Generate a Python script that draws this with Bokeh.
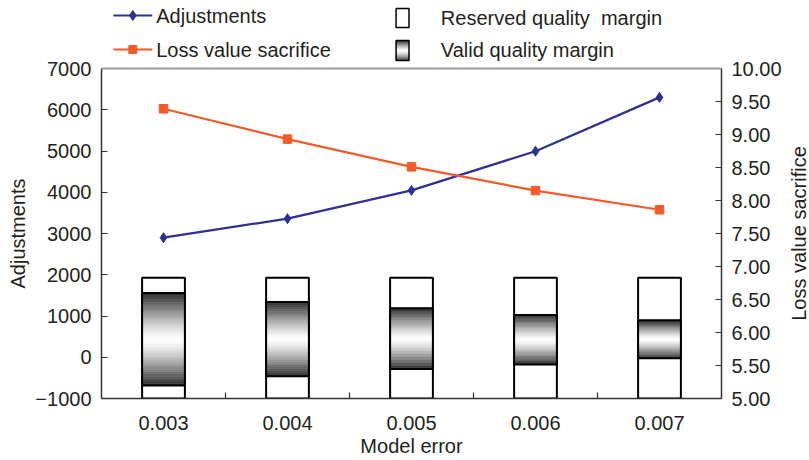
import math
import numpy as np
from bokeh.plotting import figure
from bokeh.models import (Range1d, LinearAxis, FixedTicker, NumeralTickFormatter, ColumnDataSource,
                          Span, Title)
from bokeh.layouts import row
from bokeh.embed import file_html
from bokeh.resources import INLINE
from bokeh.core.properties import value

# ---------------- data ----------------
categories = ["0.003", "0.004", "0.005", "0.006", "0.007"]
adjustments = [2900, 3360, 4045, 4995, 6300]
loss_value = [9.39, 8.93, 8.51, 8.15, 7.86]
reserved_top = [1925, 1925, 1925, 1925, 1925]
reserved_bottom = [-1000, -1000, -1000, -1000, -1000]
valid_top = [1560, 1342, 1189, 1027, 898]
valid_bottom = [-685, -460, -282, -176, -23]
left_ticks = [-1000, 0, 1000, 2000, 3000, 4000, 5000, 6000, 7000]
right_ticks = [5.0, 5.5, 6.0, 6.5, 7.0, 7.5, 8.0, 8.5, 9.0, 9.5, 10.0]
legend_labels = ["Adjustments", "Loss value sacrifice", "Reserved quality\u00a0 margin", "Valid quality margin"]
x_title = "Model error"
y_title = "Adjustments"
y2_title = "Loss value sacrifice"

FONT = "Liberation Sans"
TXT = "#231f20"
BLUE = "#2e3192"
ORANGE = "#f15a29"
BAR_W = 0.345

# layout in page pixels
W, H = 809, 460
RW = 21                              # strip on the right holding the right-axis title
FL, FR, FT, FB = 98, 721, 68, 398    # plotting area (left, right, top, bottom)

xs = np.arange(1, len(categories) + 1, dtype=float)

ylo, yhi = left_ticks[0], left_ticks[-1]
rlo, rhi = right_ticks[0], right_ticks[-1]
extra = FT / (FB - FT)


def gradient_strips(xvals, bottoms, tops, n=40):
    out = dict(x=[], bottom=[], top=[], color=[])
    for xv, b, t in zip(xvals, bottoms, tops):
        edges = np.linspace(b, t, n + 1)
        for k in range(n):
            mid = (k + 0.5) / n
            d = abs(2 * mid - 1)
            g = int(round(255 - 215 * d ** 1.3))
            out["x"].append(xv)
            out["bottom"].append(edges[k])
            out["top"].append(edges[k + 1])
            out["color"].append("#%02x%02x%02x" % (g, g, g))
    return out


p = figure(width=W - RW, height=H, x_range=Range1d(0.5, len(categories) + 0.5),
           y_range=Range1d(ylo, yhi + (yhi - ylo) * extra),
           toolbar_location=None, output_backend="svg",
           min_border_left=FL, min_border_right=W - RW - FR, min_border_top=0, min_border_bottom=H - FB,
           x_axis_location=None, y_axis_location=None)
p.grid.visible = False
p.outline_line_color = None
p.background_fill_color = "white"
p.extra_y_ranges = {"loss": Range1d(rlo, rhi + (rhi - rlo) * extra), "py": Range1d(FB, 0)}
p.extra_x_ranges = {"px": Range1d(FL, FR)}

# top border line of the plotting area
p.add_layout(Span(location=yhi, dimension="width", line_color="#9a9a9a", line_width=2))

# boxes
p.vbar(x=xs, bottom=reserved_bottom, top=reserved_top, width=BAR_W,
       fill_color="white", line_color="black", line_width=2)
src = ColumnDataSource(gradient_strips(xs, valid_bottom, valid_top))
p.vbar(x="x", bottom="bottom", top="top", width=BAR_W, source=src,
       fill_color="color", line_color="color", line_width=0.5)
p.vbar(x=xs, bottom=valid_bottom, top=valid_top, width=BAR_W,
       fill_color=None, line_color="black", line_width=2)

# lines
p.line(xs, adjustments, line_color=BLUE, line_width=2.2)
p.scatter(xs, adjustments, marker="diamond", size=10, color=BLUE)
p.line(xs, loss_value, line_color=ORANGE, line_width=2.2, y_range_name="loss")
p.scatter(xs, loss_value, marker="square", size=8.5, color=ORANGE, y_range_name="loss")

# legend (page-pixel coordinates)
L = dict(x_range_name="px", y_range_name="py")
p.segment(x0=[110], x1=[149], y0=[15], y1=[15], line_color=BLUE, line_width=2, **L)
p.scatter(x=[129.5], y=[15], marker="diamond", size=10, color=BLUE, **L)
p.segment(x0=[110], x1=[149], y0=[49], y1=[49], line_color=ORANGE, line_width=2, **L)
p.scatter(x=[129.5], y=[49], marker="square", size=8, color=ORANGE, **L)
p.quad(left=[394], right=[407], top=[8], bottom=[27], fill_color="white",
       line_color="black", line_width=1.5, **L)
ls = gradient_strips([400.5], [60], [40], n=20)
p.quad(left=[v - 6.5 for v in ls["x"]], right=[v + 6.5 for v in ls["x"]],
       top=ls["top"], bottom=ls["bottom"], fill_color=ls["color"], line_color=ls["color"],
       line_width=0.5, **L)
p.quad(left=[394], right=[407], top=[40], bottom=[60], fill_color=None,
       line_color="black", line_width=1.5, **L)
p.text(x=[153, 153, 439, 439], y=[15, 49, 17.5, 49.5], text=legend_labels,
       text_font=value(FONT), text_font_size="20px", text_color=TXT,
       text_baseline="middle", text_align="left", **L)


def style(ax):
    ax.axis_line_color = "#333333"
    ax.axis_line_width = 1.5
    ax.major_tick_line_color = "#333333"
    ax.major_tick_line_width = 1.2
    ax.major_tick_in = 6
    ax.major_tick_out = 0
    ax.minor_tick_in = 0
    ax.minor_tick_out = 0
    ax.major_label_text_font = FONT
    ax.major_label_text_font_size = "20px"
    ax.major_label_text_color = TXT
    ax.axis_label_text_font = FONT
    ax.axis_label_text_font_size = "20px"
    ax.axis_label_text_color = TXT
    ax.axis_label_text_font_style = "normal"


minor = list((xs[:-1] + xs[1:]) / 2)
xax = LinearAxis(ticker=FixedTicker(ticks=list(xs), minor_ticks=minor), axis_label=x_title)
style(xax)
xax.major_tick_in = 0
xax.minor_tick_in = 6
xax.minor_tick_out = 0
xax.minor_tick_line_color = "#333333"
xax.minor_tick_line_width = 1.2
xax.major_label_overrides = {float(v): c for v, c in zip(xs, categories)}
xax.major_label_standoff = 17
xax.axis_label_standoff = 2
p.add_layout(xax, "below")

lax = LinearAxis(ticker=FixedTicker(ticks=left_ticks), bounds=(ylo, yhi))
style(lax)
lax.major_label_standoff = 10
p.add_layout(lax, "left")

rax = LinearAxis(y_range_name="loss", ticker=FixedTicker(ticks=right_ticks), bounds=(rlo, rhi),
                 formatter=NumeralTickFormatter(format="0.00"))
style(rax)
rax.major_label_standoff = 10
p.add_layout(rax, "right")

# left title, placed from the bottom of the side panel so that it is centred on the plotting area
p.add_layout(Title(text=y_title, align="left", offset=110, standoff=8,
                   text_font=FONT, text_font_size="20px", text_font_style="normal",
                   text_color=TXT), "left")

# right-axis title in a narrow strip, reading bottom to top
rt = figure(width=RW, height=H, x_range=Range1d(W - RW, W), y_range=Range1d(FB, 0),
            toolbar_location=None, output_backend="svg",
            min_border_left=0, min_border_right=0, min_border_top=0, min_border_bottom=H - FB,
            x_axis_location=None, y_axis_location=None)
rt.grid.visible = False
rt.outline_line_color = None
rt.text(x=[798], y=[(FT + FB) / 2], text=[y2_title], angle=math.pi / 2,
        text_font=value(FONT), text_font_size="20px", text_color=TXT,
        text_baseline="middle", text_align="center")

open("out.html", "w").write(file_html(row(p, rt, spacing=0), INLINE))
